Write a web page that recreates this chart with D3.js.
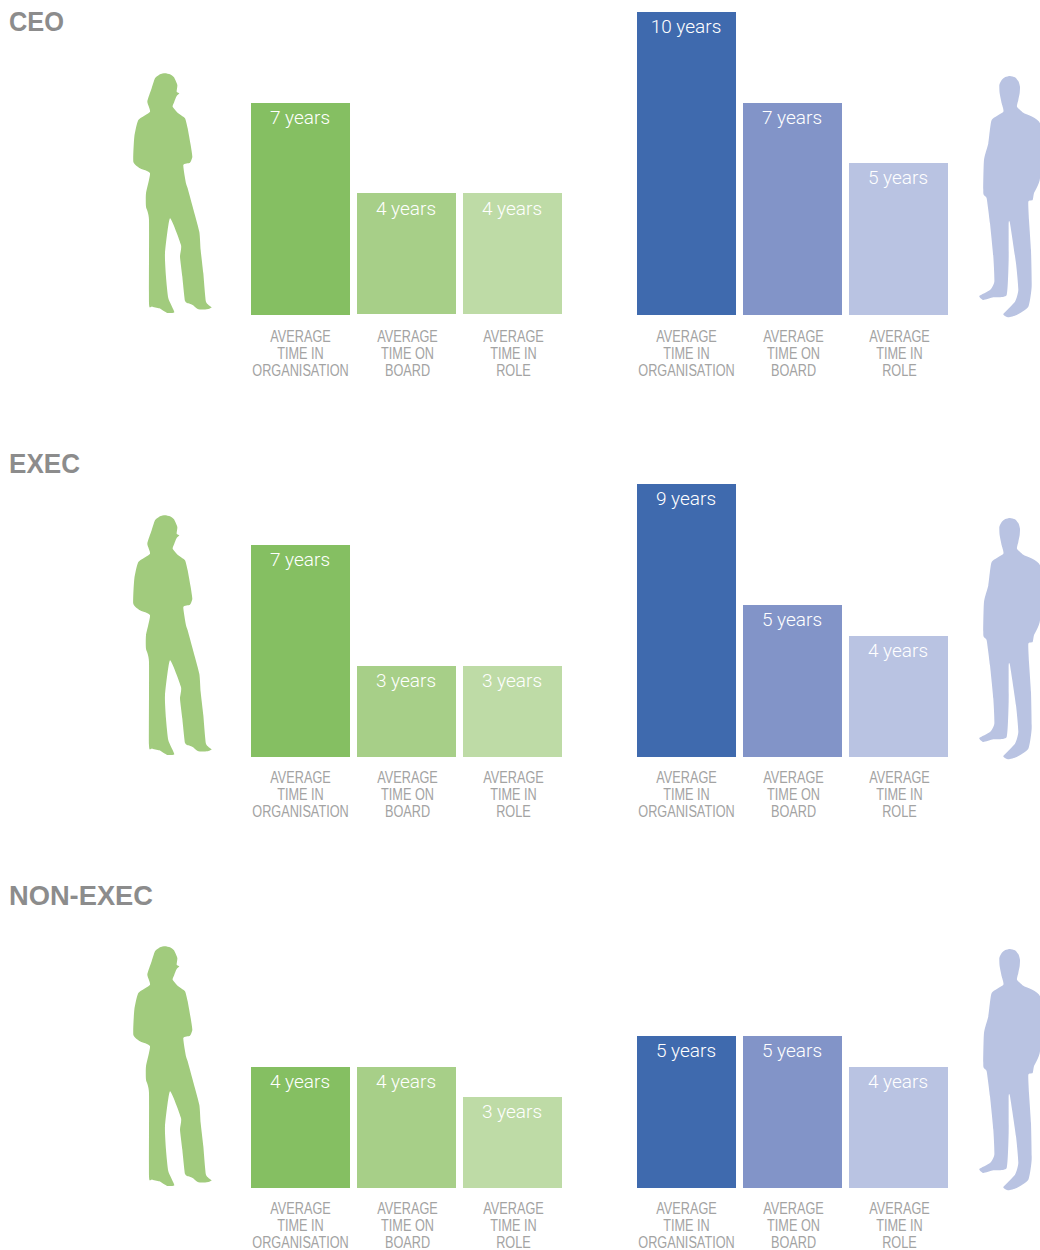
<!DOCTYPE html>
<html>
<head>
<meta charset="utf-8">
<script src="https://cdn.jsdelivr.net/npm/d3@7"></script>
<style>
  html, body { margin: 0; padding: 0; background: #fff; }
  svg { display: block; }
</style>
</head>
<body>
<div id="viz"></div>
<script>
// values, years
const rows = ["CEO", "EXEC", "NON-EXEC"];
const categories = ["AVERAGE|TIME IN|ORGANISATION", "AVERAGE|TIME ON|BOARD", "AVERAGE|TIME IN|ROLE"];
const womenYears = [[7, 4, 4], [7, 3, 3], [4, 4, 3]];
const menYears = [[10, 7, 5], [9, 5, 4], [5, 5, 4]];

const womenColors = ["#85bf62", "#a7cf88", "#bedba6"];
const menColors = ["#3f6aae", "#8294c8", "#b9c3e2"];

// silhouette outlines, traced by hand at 3x
const womanShape = [[135,40],[150,43],[162,52],[172,75],[170,95],[178,100],[170,108],[163,125],[158,140],[175,160],[195,175],[203,205],[212,255],[217,290],[210,308],[190,315],[198,370],[203,385],[218,440],[238,515],[242,570],[250,640],[258,725],[275,742],[262,748],[235,748],[218,735],[205,730],[195,722],[187,650],[180,590],[183,555],[150,475],[135,580],[138,650],[145,715],[163,757],[140,758],[118,745],[95,740],[87,730],[87,480],[78,440],[78,400],[90,340],[60,325],[40,305],[43,230],[55,180],[90,155],[82,125],[95,85],[105,55],[120,43]];
const manShape = [[150,48],[165,52],[176,65],[180,80],[179,100],[175,120],[171,140],[190,158],[240,190],[240,355],[222,400],[218,420],[205,425],[207,480],[213,570],[215,680],[205,740],[170,765],[145,772],[130,762],[165,725],[175,690],[168,610],[150,490],[146,490],[146,600],[140,705],[100,712],[70,720],[58,708],[90,690],[103,665],[100,590],[90,490],[80,415],[70,400],[72,300],[85,250],[95,180],[130,155],[125,130],[119,100],[118,75],[125,60],[136,51]];

const width = 1040;
const height = 1250;
const baselines = [315, 757, 1188];
const titleY = [31, 473, 905];
const titleLength = [55, 71, 144];
const labelOffset = [27, 26, 26];

let svg = d3.select("#viz").append("svg")
  .attr("width", width)
  .attr("height", height);

let yScale = d3.scaleLinear().domain([0, 10]).rangeRound([0, 303]);

function xBand(left) {
  return d3.scaleBand()
    .domain(categories)
    .range([left, left + 311])
    .paddingInner(0.066)
    .paddingOuter(0);
}

let shapeLine = d3.line().curve(d3.curveCardinalClosed.tension(0.5));

function drawPanel(g, values, colors, x, labelY) {
  g.selectAll("rect")
    .data(values)
    .enter()
    .append("rect")
    .attr("x", (d, i) => x(categories[i]))
    .attr("y", d => -yScale(d))
    .attr("width", x.bandwidth())
    .attr("height", d => yScale(d))
    .attr("fill", (d, i) => colors[i]);

  g.selectAll(".value")
    .data(values)
    .enter()
    .append("text")
    .attr("class", "value")
    .attr("x", (d, i) => x(categories[i]) + x.bandwidth() / 2 - 0.5)
    .attr("y", d => -yScale(d) + 21)
    .attr("text-anchor", "middle")
    .attr("fill", "#fff")
    .style("font-family", "Roboto, sans-serif")
    .style("font-weight", 300)
    .style("font-size", "19px")
    .text(d => d + " years");

  // the labels are a condensed face, so squeeze the whole block
  categories.forEach((cat, c) => {
    let label = g.append("text")
      .attr("transform", `translate(${x(cat) + x.bandwidth() / 2 + (c > 0 ? 1 : 0)},${labelY}) scale(0.77,1)`)
      .attr("text-anchor", "middle")
      .attr("fill", "#a3a3a3")
      .style("font-family", "'Liberation Sans', sans-serif")
      .style("font-size", "16.5px");
    cat.split("|").forEach((line, i) => {
      label.append("tspan")
        .attr("x", 0)
        .attr("y", i * 17)
        .text(line);
    });
  });
}

rows.forEach((name, r) => {
  svg.append("text")
    .attr("x", 9)
    .attr("y", titleY[r])
    .attr("fill", "#8c8c8c")
    .attr("textLength", titleLength[r])
    .attr("lengthAdjust", "spacingAndGlyphs")
    .style("font-family", "'Liberation Sans', sans-serif")
    .style("font-weight", 700)
    .style("font-size", "27px")
    .text(name);

  let row = svg.append("g").attr("transform", `translate(0,${baselines[r]})`);

  // silhouettes
  row.append("path")
    .attr("d", shapeLine(womanShape))
    .attr("transform", "translate(120,-255) scale(0.3333)")
    .attr("fill", "#a1cb7d");
  row.append("path")
    .attr("d", shapeLine(manShape))
    .attr("transform", "translate(960,-255) scale(0.3333)")
    .attr("fill", "#b9c3e2");

  let women = row.append("g");
  drawPanel(women, womenYears[r], womenColors, xBand(251), labelOffset[r]);
  drawPanel(row.append("g"), menYears[r], menColors, xBand(637), labelOffset[r]);

  // in the reference the two paler CEO bars sit a pixel higher
  if (r === 0) {
    women.selectAll("rect").filter((d, i) => i > 0).attr("transform", "translate(0,-1)");
  }
});
</script>
</body>
</html>
